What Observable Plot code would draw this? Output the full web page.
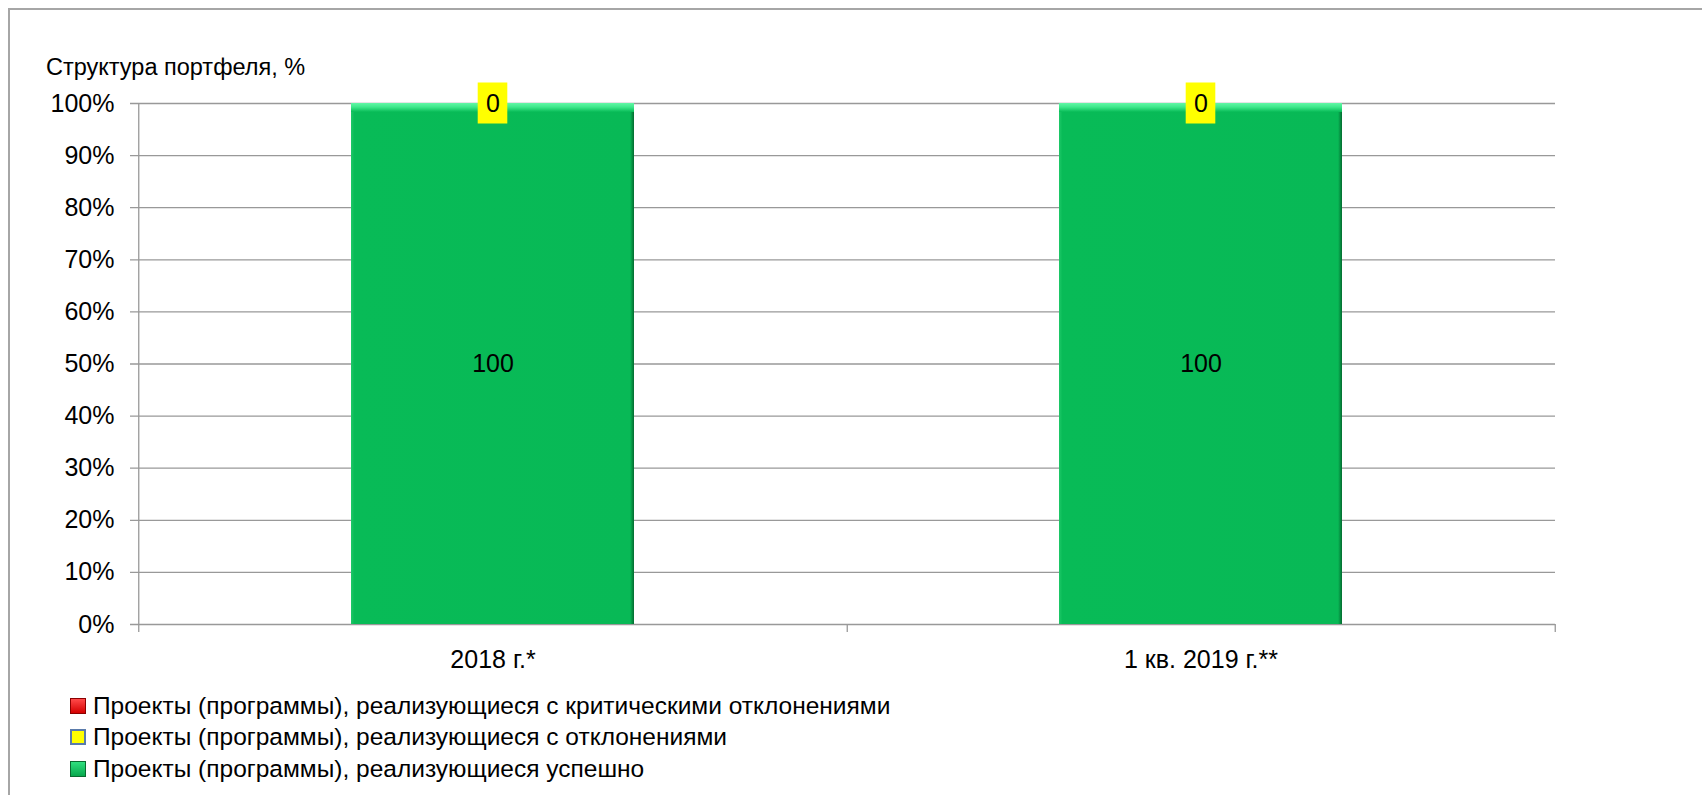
<!DOCTYPE html>
<html>
<head>
<meta charset="utf-8">
<script src="https://cdn.jsdelivr.net/npm/d3@7"></script>
<script src="https://cdn.jsdelivr.net/npm/@observablehq/plot@0.6"></script>
<style>
  body { margin: 0; background: #fff; }
  #wrap { position: relative; width: 1702px; height: 795px; overflow: hidden;
          font-family: "Liberation Sans", Arial, sans-serif; color: #000; }
  #frame { position: absolute; left: 8px; top: 8px; width: 1800px; height: 900px;
           border-left: 2px solid #a6a6a6; border-top: 2px solid #a6a6a6; }
  #title { position: absolute; left: 46px; top: 55px; font-size: 23.5px; line-height: 24px; white-space: nowrap; }
  .leg { position: absolute; left: 70px; height: 24px; display: flex; align-items: center;
         font-size: 24.5px; line-height: 24px; white-space: nowrap; }
  .sw { width: 16px; height: 16px; box-sizing: border-box; margin-right: 7px; }
  #chart svg { position: absolute; left: 0; top: 0; }
  g[aria-label="bars-main"] { filter: drop-shadow(3px 4px 3px rgba(0,0,0,0.45)); }
</style>
</head>
<body>
<svg width="0" height="0" style="position:absolute">
  <defs>
    <linearGradient id="barFill" x1="0" y1="0" x2="1" y2="0">
      <stop offset="0" stop-color="#1fc868"/>
      <stop offset="0.012" stop-color="#08bb57"/>
      <stop offset="0.986" stop-color="#08b956"/>
      <stop offset="1" stop-color="#046b30"/>
    </linearGradient>
    <linearGradient id="bevelTop" x1="0" y1="0" x2="0" y2="1">
      <stop offset="0" stop-color="#62f7a6"/>
      <stop offset="0.45" stop-color="#3ee88b"/>
      <stop offset="1" stop-color="#08bb57"/>
    </linearGradient>
  </defs>
</svg>
<div id="wrap">
  <div id="frame"></div>
  <div id="chart"></div>
  <div id="title"></div>
  <div id="legend"></div>
</div>
<script>
// ---- data ----
const titleText = "Структура портфеля, %";
const categories = ["2018 г.*", "1 кв. 2019 г.**"];
const seriesKeys = ["crit", "dev", "success"];
const seriesNames = [
  "Проекты (программы), реализующиеся с критическими отклонениями",
  "Проекты (программы), реализующиеся с отклонениями",
  "Проекты (программы), реализующиеся успешно"
];
const critical = [0, 0];
const deviations = [0, 0];
const success = [100, 100];
const yTicks = [0, 10, 20, 30, 40, 50, 60, 70, 80, 90, 100];

// ---- styles ----
const fills = { crit: "#ff0000", dev: "#ffff00", success: "url(#barFill)" };
const swatch = {
  crit: { bg: "linear-gradient(#ff4a4a, #d40000)", border: "1px solid #8b0000" },
  dev: { bg: "#ffff00", border: "2px solid #5a7bab" },
  success: { bg: "linear-gradient(#2fe07f, #08a84d)", border: "1px solid #0a6a30" }
};

// ---- table (stack order: successful at the bottom) ----
const valuesByKey = { crit: critical, dev: deviations, success: success };
const rows = [];
categories.forEach((c, i) => {
  ["success", "dev", "crit"].forEach(k => rows.push({ cat: c, key: k, value: valuesByKey[k][i] }));
});

// ---- layout ----
const W = 1702, H = 795, mL = 138, mR = 147, mT = 103, mB = 171;
const plotW = W - mL - mR, plotH = H - mT - mB;
const pInner = 0.6, pOuter = 0.3;
const step = plotW / (categories.length - pInner + 2 * pOuter);
const bandW = step * (1 - pInner);
const boxInset = (bandW - 30) / 2;
const axisColor = "#999999";

const plot = Plot.plot({
  width: W, height: H,
  marginLeft: mL, marginRight: mR, marginTop: mT, marginBottom: mB,
  style: { fontFamily: "Liberation Sans, Arial, sans-serif", fontSize: "25px", color: "black", background: "transparent", overflow: "visible" },
  x: { domain: categories, paddingInner: pInner, paddingOuter: pOuter, tickSize: 0, tickPadding: 26, label: null },
  y: { domain: [0, 100], ticks: yTicks, tickFormat: d => d + "%", tickSize: 0, tickPadding: 24, label: null },
  color: { type: "identity" },
  marks: [
    // gridlines + y tick marks
    Plot.ruleY(yTicks, { stroke: axisColor, strokeWidth: 1.3, insetLeft: -8 }),
    // vertical axis line
    Plot.ruleX([categories[0]], { x: d => d, dx: -step / 2, stroke: axisColor, strokeWidth: 1.3, insetBottom: -8 }),
    // category boundary ticks below the axis
    Plot.ruleX(categories, { x: d => d, dx: step / 2, stroke: axisColor, strokeWidth: 1.3, insetTop: plotH, insetBottom: -8 }),
    // stacked bars
    Plot.barY(rows, Plot.stackY({ x: "cat", y: "value", fill: d => fills[d.key], ariaLabel: "bars-main" })),
    // bevel highlight on top of the successful series
    Plot.barY(rows.filter(d => d.key === "success"), { x: "cat", y1: "value", y2: "value", insetBottom: -9, fill: "url(#bevelTop)" }),
    // yellow label box for the "deviations" series
    Plot.barY(rows, Plot.stackY({ x: "cat", y: "value",
      fill: d => d.key === "dev" ? "#ffff00" : "none",
      insetTop: -20.5, insetBottom: -20.5, insetLeft: boxInset, insetRight: boxInset })),
    // data labels
    Plot.text(rows, Plot.stackY({ x: "cat", y: "value",
      text: d => d.key === "crit" ? null : String(d.value),
      fill: "black", fontSize: 25 }))
  ]
});
document.getElementById("chart").appendChild(plot);

// title
document.getElementById("title").textContent = titleText;

// legend
const legend = document.getElementById("legend");
const legCenters = [706, 737, 769];
seriesKeys.forEach((k, i) => {
  const row = document.createElement("div");
  row.className = "leg";
  row.style.top = (legCenters[i] - 12) + "px";
  const sw = document.createElement("div");
  sw.className = "sw";
  sw.style.background = swatch[k].bg;
  sw.style.border = swatch[k].border;
  const t = document.createElement("span");
  t.textContent = seriesNames[i];
  row.appendChild(sw);
  row.appendChild(t);
  legend.appendChild(row);
});
</script>
</body>
</html>
